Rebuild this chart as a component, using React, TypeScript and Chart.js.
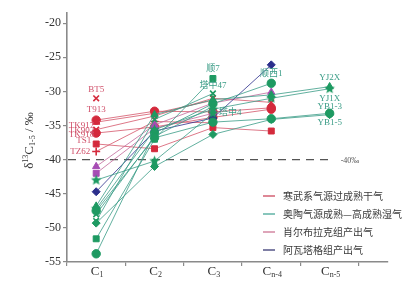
import { useEffect, useRef } from 'react';
import { Chart, registerables } from 'chart.js';
Chart.register(...registerables);

// ---------- data ----------
const categories = ['C1', 'C2', 'C3', 'Cn-4', 'Cn-5'];
const categoryMain = ['C', 'C', 'C', 'C', 'C'];
const categorySubs = ['1', '2', '3', 'n-4', 'n-5'];
const yTickValues = [-55, -50, -45, -40, -35, -30, -25, -20];
const referenceValue = -40;
const referenceText = '-40‰';
const groupNames = ['寒武系气源过成熟干气', '奥陶气源成熟—高成熟湿气', '肖尔布拉克组产出气', '阿瓦塔格组产出气'];

// 寒武系气源过成熟干气
const bt5 = [-31.0, null, null, null, null];
const t913 = [-34.2, -32.9, -33.0, -32.4, null];
const tk917 = [-34.5, -33.2, -31.3, null, null];
const tk902 = [-35.6, -33.6, -31.0, -31.6, null];
const tk918 = [-36.1, -35.2, -33.8, -32.6, null];
const ts1 = [-37.7, -38.4, -35.3, -35.8, null];
const tz62 = [-38.8, -34.4, -34.6, null, null];
// 肖尔布拉克组产出气
const xe1 = [-41.0, -34.9, -31.7, -30.1, null];
const xe2 = [-42.0, -35.4, -33.2, null, null];
// 阿瓦塔格组产出气
const aw1 = [-44.7, -35.8, -33.9, -26.1, null];
// 奥陶气源成熟—高成熟湿气
const shunxi1 = [-53.8, -36.1, -31.8, -28.8, null];
const shun7 = [-51.6, -37.0, -28.1, null, null];
const tz47 = [-49.0, -34.1, -30.3, null, null];
const og4 = [-48.0, -36.6, -32.2, null, null];
const tz4 = [-43.0, -40.2, -33.2, null, null];
const yj2x = [-46.8, -33.4, -31.2, -30.5, -29.3];
const yj1x = [-47.2, -35.6, -32.6, -31.0, -29.6];
const yb15 = [-49.3, -41.0, -36.3, -34.1, -33.4];
const yb13 = [-47.5, -36.8, -34.5, -34.0, -33.2];

const series = [
  { name: 'YB1-5', group: 1, marker: 'rectRot', values: yb15 },
  { name: 'YB1-3', group: 1, marker: 'circle', values: yb13 },
  { name: 'YJ1X', group: 1, marker: 'star', values: yj1x },
  { name: 'YJ2X', group: 1, marker: 'triangle', values: yj2x },
  { name: '塔中4', group: 1, marker: 'star', values: tz4 },
  { name: 'O4', group: 1, marker: 'crossRot', values: og4 },
  { name: '塔中47', group: 1, marker: 'crossRot', values: tz47 },
  { name: '顺7', group: 1, marker: 'rect', values: shun7 },
  { name: '顺西1', group: 1, marker: 'circle', values: shunxi1 },
  { name: 'AW1', group: 3, marker: 'rectRot', values: aw1 },
  { name: 'XE2', group: 2, marker: 'rect', values: xe2 },
  { name: 'XE1', group: 2, marker: 'triangle', values: xe1 },
  { name: 'TZ62', group: 0, marker: 'cross', values: tz62 },
  { name: 'TS1', group: 0, marker: 'rect', values: ts1 },
  { name: 'TK918', group: 0, marker: 'circle', values: tk918 },
  { name: 'TK902', group: 0, marker: 'crossRot', values: tk902 },
  { name: 'TK917', group: 0, marker: 'triangle', values: tk917 },
  { name: 'T913', group: 0, marker: 'circle', values: t913 },
  { name: 'BT5', group: 0, marker: 'crossRot', values: bt5 },
];

// ---------- styles ----------
const markerColors = ['#d42a3c', '#1e9a62', '#a64cb4', '#2c2f8c'];
const lineColors = ['#d4566a', '#3a9c86', '#c2689a', '#2c2f8c'];
const legendColors = ['#c83a50', '#3aa090', '#c86a8a', '#2a2a6a'];
const labelColors = ['#d0506a', '#3a9c86', '#c2689a', '#2c2f8c'];

// label placement: series name, point index, pixel offsets, alignment
const labelPlacement = [
  { name: 'BT5', index: 0, dx: 0, dy: -9, align: 'center' },
  { name: 'T913', index: 0, dx: 0, dy: -10, align: 'center' },
  { name: 'TK917', index: 0, dx: -2, dy: 3, align: 'right' },
  { name: 'TK902', index: 0, dx: -2, dy: 1, align: 'right' },
  { name: 'TK918', index: 0, dx: -2, dy: 2, align: 'right' },
  { name: 'TS1', index: 0, dx: -5, dy: -3, align: 'right' },
  { name: 'TZ62', index: 0, dx: -6, dy: 0, align: 'right' },
  { name: '顺7', index: 2, dx: 0, dy: -10, align: 'center' },
  { name: '塔中47', index: 2, dx: 0, dy: -8, align: 'center' },
  { name: '塔中4', index: 2, dx: 6, dy: -1, align: 'left' },
  { name: '顺西1', index: 3, dx: 0, dy: -10, align: 'center' },
  { name: 'YJ2X', index: 4, dx: 0, dy: -9, align: 'center' },
  { name: 'YJ1X', index: 4, dx: 0, dy: 10, align: 'center' },
  { name: 'YB1-3', index: 4, dx: 0, dy: -7, align: 'center' },
  { name: 'YB1-5', index: 4, dx: 0, dy: 8, align: 'center' },
];

const SERIF = '"Liberation Serif", "DejaVu Serif", "Noto Sans CJK SC", serif';
const CJK = '"Noto Sans CJK SC", "Liberation Serif", sans-serif';

type Seg = { text: string; size: number; dy: number };

function drawRich(ctx: CanvasRenderingContext2D, segs: Seg[], x: number, y: number, align: string, family: string) {
  let total = 0;
  const widths = segs.map((s) => {
    ctx.font = `${s.size}px ${family}`;
    const w = ctx.measureText(s.text).width;
    total += w;
    return w;
  });
  let cx = align === 'center' ? x - total / 2 : align === 'right' ? x - total : x;
  ctx.textAlign = 'left';
  segs.forEach((s, i) => {
    ctx.font = `${s.size}px ${family}`;
    ctx.fillText(s.text, cx, y + s.dy);
    cx += widths[i];
  });
}

function makeStar(color: string, r: number) {
  const c = document.createElement('canvas');
  const s = Math.ceil(r * 2 + 2);
  c.width = s;
  c.height = s;
  const g = c.getContext('2d')!;
  g.beginPath();
  for (let i = 0; i < 10; i++) {
    const ang = -Math.PI / 2 + (i * Math.PI) / 5;
    const rr = i % 2 === 0 ? r : r * 0.45;
    g.lineTo(s / 2 + rr * Math.cos(ang), s / 2 + rr * Math.sin(ang));
  }
  g.closePath();
  g.fillStyle = color;
  g.fill();
  return c;
}

const overlayPlugin = {
  id: 'overlay',
  beforeDatasetsDraw(chart: any) {
    const { ctx, chartArea } = chart;
    const xs = chart.scales.x;
    const ys = chart.scales.y;
    const y = ys.getPixelForValue(referenceValue);
    const xEnd = xs.getPixelForValue(categories.length) + 4;
    ctx.save();
    ctx.strokeStyle = '#555';
    ctx.lineWidth = 1.1;
    ctx.setLineDash([8, 6]);
    ctx.beginPath();
    ctx.moveTo(chartArea.left + 1, y);
    ctx.lineTo(xEnd, y);
    ctx.stroke();
    ctx.setLineDash([]);
    ctx.fillStyle = '#555';
    ctx.textBaseline = 'middle';
    ctx.font = `8px ${SERIF}`;
    ctx.textAlign = 'left';
    ctx.fillText(referenceText, xEnd + 7, y + 1);
    ctx.restore();
  },
  afterDatasetsDraw(chart: any) {
    const { ctx } = chart;
    const xs = chart.scales.x;
    const ys = chart.scales.y;
    ctx.save();
    ctx.textBaseline = 'middle';
    labelPlacement.forEach((lp) => {
      const s = series.find((q) => q.name === lp.name);
      if (!s) return;
      const v = s.values[lp.index];
      if (v == null) return;
      const px = xs.getPixelForValue(lp.index + 1) + lp.dx;
      const py = ys.getPixelForValue(v) + lp.dy;
      ctx.fillStyle = labelColors[s.group];
      ctx.font = `9px ${SERIF}`;
      ctx.textAlign = lp.align;
      ctx.fillText(lp.name, px, py);
    });
    ctx.restore();
  },
  afterDraw(chart: any) {
    const { ctx, chartArea } = chart;
    const xs = chart.scales.x;
    ctx.save();
    ctx.fillStyle = '#333';
    ctx.textBaseline = 'middle';
    // x category labels
    categories.forEach((_, i) => {
      const px = xs.getPixelForValue(i + 1) + 1;
      drawRich(
        ctx,
        [
          { text: categoryMain[i], size: 13, dy: 0 },
          { text: categorySubs[i], size: 8, dy: 3 },
        ],
        px,
        chartArea.bottom + 10,
        'center',
        SERIF
      );
    });
    // y title
    ctx.save();
    ctx.translate(30, (chartArea.top + chartArea.bottom) / 2 + 3);
    ctx.rotate(-Math.PI / 2);
    drawRich(
      ctx,
      [
        { text: 'δ', size: 13, dy: 0 },
        { text: '13', size: 8, dy: -4 },
        { text: 'C', size: 13, dy: 0 },
        { text: '1-5', size: 8, dy: 3 },
        { text: ' / ‰', size: 13, dy: 0 },
      ],
      0,
      0,
      'center',
      SERIF
    );
    ctx.restore();
    // legend
    const lx = chartArea.right - 125;
    const ly0 = chartArea.bottom - 66;
    groupNames.forEach((g, i) => {
      const y = ly0 + i * 18;
      ctx.strokeStyle = legendColors[i];
      ctx.lineWidth = 1.2;
      ctx.beginPath();
      ctx.moveTo(lx, y);
      ctx.lineTo(lx + 12, y);
      ctx.stroke();
      ctx.fillStyle = '#3a3a3a';
      ctx.font = `10px ${CJK}`;
      ctx.textAlign = 'left';
      ctx.fillText(g, lx + 20, y);
    });
    ctx.restore();
  },
};

export default function App() {
  const ref = useRef<HTMLCanvasElement | null>(null);
  useEffect(() => {
    document.body.style.margin = '0';
    const canvas = ref.current;
    if (!canvas) return;
    const stars = markerColors.map((c) => makeStar(c, 5.5));
    const datasets = series.map((s) => ({
      label: s.name,
      data: s.values.map((v, i) => ({ x: i + 1, y: v })),
      borderColor: lineColors[s.group],
      borderWidth: 0.8,
      pointStyle: s.marker === 'star' ? stars[s.group] : s.marker,
      pointRadius: s.marker === 'rectRot' ? 4 : s.marker === 'cross' || s.marker === 'crossRot' ? 4 : 4.2,
      pointBackgroundColor: markerColors[s.group],
      pointBorderColor: markerColors[s.group],
      pointBorderWidth: s.marker === 'cross' || s.marker === 'crossRot' ? 1.6 : 1,
      spanGaps: false,
      fill: false,
      tension: 0,
    }));
    const chart = new Chart(canvas, {
      type: 'line',
      data: { datasets },
      options: {
        animation: false,
        responsive: false,
        devicePixelRatio: 1,
        layout: { padding: { top: 13, right: 22, left: 0, bottom: 0 } },
        plugins: { legend: { display: false }, tooltip: { enabled: false } },
        scales: {
          x: {
            type: 'linear',
            min: 0.5,
            max: 6,
            afterBuildTicks: (s: any) => {
              s.ticks = categories.concat(['']).map((_, i) => ({ value: i + 0.5 }));
            },
            afterFit: (s: any) => {
              s.height = 26;
            },
            ticks: { display: false },
            grid: { drawOnChartArea: false, drawTicks: true, tickLength: 4, color: '#8a8a8a', lineWidth: 1.2 },
            border: { color: '#8a8a8a', width: 1.6 },
          },
          y: {
            type: 'linear',
            min: -55,
            max: -18.5,
            afterBuildTicks: (s: any) => {
              s.ticks = yTickValues.map((v) => ({ value: v }));
            },
            afterFit: (s: any) => {
              s.width = 67;
            },
            ticks: { color: '#333', font: { family: SERIF, size: 12 }, padding: 2 },
            grid: { drawOnChartArea: false, drawTicks: true, tickLength: 4, color: '#8a8a8a', lineWidth: 1.2 },
            border: { color: '#8a8a8a', width: 1.6 },
          },
        },
      },
      plugins: [overlayPlugin],
    } as any);
    return () => chart.destroy();
  }, []);
  return (
    <div style={{ width: 410, height: 288 }}>
      <canvas ref={ref} width={410} height={288} style={{ width: 410, height: 288, display: 'block' }} />
    </div>
  );
}
